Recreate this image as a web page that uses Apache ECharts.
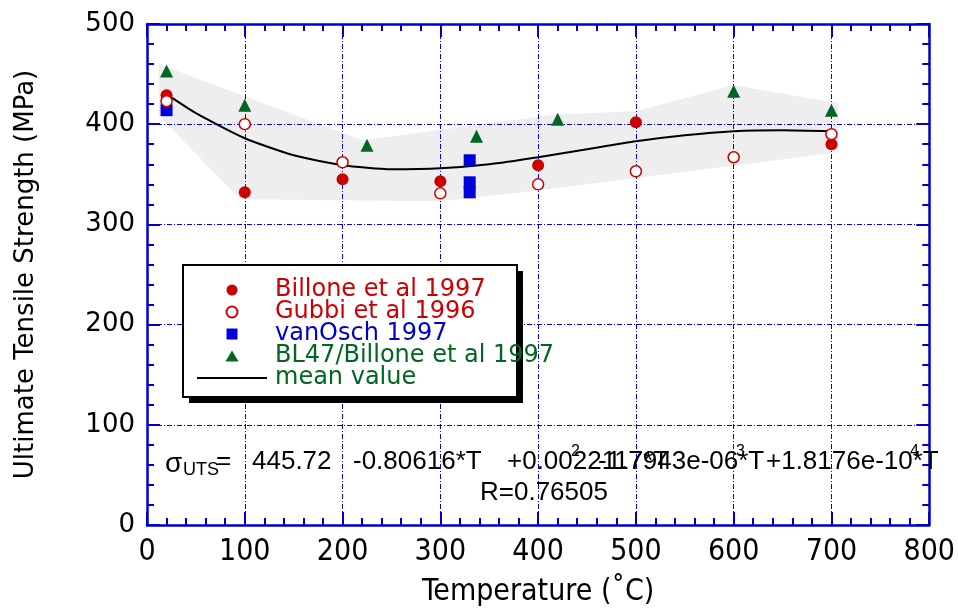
<!DOCTYPE html>
<html>
<head>
<meta charset="utf-8">
<script src="https://cdn.jsdelivr.net/npm/echarts@6/dist/echarts.min.js"></script>
<style>
  html, body { margin: 0; padding: 0; background: #fff; }
  #main { width: 958px; height: 613px; }
</style>
</head>
<body>
<div id="main"></div>
<script>
// data
var billoneT = [20, 100, 200, 300, 400, 500, 700];
var billoneUTS = [429, 332, 345, 343, 359, 402, 380];

var gubbiT = [20, 100, 200, 300, 400, 500, 600, 700];
var gubbiUTS = [423, 400, 362, 331, 340, 353, 367, 390];

var vanOschT = [20, 330, 330, 330];
var vanOschUTS = [414, 364, 342, 332];

var bl47T = [20, 100, 225, 337, 420, 600, 700];
var bl47UTS = [453, 419, 379, 388, 405, 433, 414];

var meanT = [20, 50, 100, 150, 200, 250, 300, 350, 400, 450, 500, 550, 600, 650, 700];
var meanUTS = [430, 411, 386, 369, 359, 355, 356, 360, 367, 375, 383, 389, 393, 394, 393];

// grey scatter band outline (upper edge then lower edge)
var bandT = [12, 220, 420, 500, 600, 707, 707, 402, 300, 95, 12];
var bandUTS = [460, 384, 410, 413, 439, 421, 372, 334, 323, 325, 409];

var xTicks = [0, 100, 200, 300, 400, 500, 600, 700, 800];
var yTicks = [0, 100, 200, 300, 400, 500];

function pairs(xs, ys) {
    return xs.map(function(x, i) { return [x, ys[i]]; });
}

var blue = '#0000cc';
var red = '#cc0000';
var green = '#006622';

// legend icons: the tiny corner specks keep the icon box 70x11 so the mark isn't stretched
var iconBox = 'M0,0L0.01,0L0,0.01Z M70,11L69.99,11L70,10.99Z ';
var squareIcon = 'path://' + iconBox + 'M29.5,0H40.5V11H29.5Z';
var triangleIcon = 'path://' + iconBox + 'M35,0L41.5,11H28.5Z';

var myChart = echarts.init(document.getElementById('main'));

function frameAxis(extra) {
    var ax = {
        type: 'value',
        axisLine: { show: true, onZero: false, lineStyle: { color: blue, width: 2.5 } },
        axisTick: { show: true, inside: true, length: 13, lineStyle: { color: blue, width: 2 } },
        minorTick: { show: true, splitNumber: 5, length: 7, lineStyle: { color: blue, width: 2 } },
        splitLine: { show: false },
        axisLabel: { show: false }
    };
    for (var k in extra) ax[k] = extra[k];
    return ax;
}

var gridLine = { show: true, lineStyle: { color: '#0000ee', width: 1, type: [5, 2, 1, 2] } };

var eqFont = '26px "Liberation Sans"';

var option = {
    animation: false,
    backgroundColor: '#fff',
    grid: { left: 147, right: 28, top: 24, bottom: 88 },
    xAxis: [
        frameAxis({
            position: 'bottom', min: xTicks[0], max: xTicks[xTicks.length - 1], interval: 100,
            splitLine: gridLine,
            axisLabel: { show: true, margin: 12, color: '#000', fontSize: 30,
                fontFamily: '"Liberation Sans Narrow", "DejaVu Sans Condensed", sans-serif' },
            name: 'Temperature (˚C)', nameLocation: 'middle', nameGap: 52,
            nameTextStyle: { color: '#000', fontSize: 30,
                fontFamily: '"Liberation Sans Narrow", "DejaVu Sans Condensed", sans-serif' }
        }),
        frameAxis({ position: 'top', min: 0, max: 800, interval: 100 })
    ],
    yAxis: [
        frameAxis({
            position: 'left', min: yTicks[0], max: yTicks[yTicks.length - 1], interval: 100,
            splitLine: gridLine,
            axisLabel: { show: true, margin: 12, color: '#000', fontSize: 26, fontFamily: '"DejaVu Sans", sans-serif' },
            name: 'Ultimate Tensile Strength (MPa)', nameLocation: 'middle', nameGap: 108,
            nameTextStyle: { color: '#000', fontSize: 26, fontFamily: '"DejaVu Sans", sans-serif' }
        }),
        frameAxis({ position: 'right', min: 0, max: 500, interval: 100 })
    ],
    legend: {
        orient: 'vertical',
        left: 196,
        top: 278,
        padding: 0,
        itemWidth: 70,
        itemHeight: 11,
        itemGap: -2,
        z: 20,
        textStyle: { fontSize: 24, lineHeight: 22, fontFamily: '"DejaVu Sans", sans-serif', padding: [0, 0, 0, 3] },
        data: [
            { name: 'Billone et al 1997', textStyle: { color: red } },
            { name: 'Gubbi et al 1996', textStyle: { color: red } },
            { name: 'vanOsch 1997', icon: squareIcon, textStyle: { color: blue } },
            { name: 'BL47/Billone et al 1997', icon: triangleIcon, textStyle: { color: green } },
            { name: 'mean value', textStyle: { color: green }, itemStyle: { color: 'rgba(0,0,0,0)', borderWidth: 0 } }
        ]
    },
    graphic: [
        { type: 'rect', z: 10, shape: { x: 189, y: 271, width: 334, height: 132 }, style: { fill: '#000' } },
        { type: 'rect', z: 11, shape: { x: 183, y: 265, width: 334, height: 132 },
          style: { fill: '#fff', stroke: '#000', lineWidth: 2 } },
        { type: 'text', z: 30, x: 165, y: 464, style: { text: 'σ', font: '28px "Liberation Sans"', fill: '#000', textVerticalAlign: 'middle' } },
        { type: 'text', z: 30, x: 183, y: 470, style: { text: 'UTS', font: '18px "Liberation Sans"', fill: '#000', textVerticalAlign: 'middle' } },
        { type: 'text', z: 30, x: 216, y: 462, style: { text: '=', font: eqFont, fill: '#000', textVerticalAlign: 'middle' } },
        { type: 'text', z: 30, x: 252, y: 462, style: { text: '445.72', font: eqFont, fill: '#000', textVerticalAlign: 'middle' } },
        { type: 'text', z: 30, x: 353, y: 462, style: { text: '-0.80616*T', font: eqFont, fill: '#000', textVerticalAlign: 'middle' } },
        { type: 'text', z: 30, x: 507, y: 462, style: { text: '+0.0022117*T', font: eqFont, fill: '#000', textVerticalAlign: 'middle' } },
        { type: 'text', z: 30, x: 598, y: 462, style: { text: '-1.7943e-06*T', font: eqFont, fill: '#000', textVerticalAlign: 'middle' } },
        { type: 'text', z: 30, x: 766, y: 462, style: { text: '+1.8176e-10*T', font: eqFont, fill: '#000', textVerticalAlign: 'middle' } },
        { type: 'text', z: 30, x: 571, y: 452, style: { text: '2', font: '16px "Liberation Sans"', fill: '#000', textVerticalAlign: 'middle' } },
        { type: 'text', z: 30, x: 736, y: 452, style: { text: '3', font: '16px "Liberation Sans"', fill: '#000', textVerticalAlign: 'middle' } },
        { type: 'text', z: 30, x: 910, y: 452, style: { text: '4', font: '16px "Liberation Sans"', fill: '#000', textVerticalAlign: 'middle' } },
        { type: 'text', z: 30, x: 480, y: 493, style: { text: 'R=0.76505', font: eqFont, fill: '#000', textVerticalAlign: 'middle' } }
    ],
    series: [
        {
            name: 'band',
            type: 'custom',
            z: -1,
            silent: true,
            data: pairs(bandT, bandUTS),
            renderItem: function(params, api) {
                if (params.dataIndex !== 0) return;
                var pts = bandT.map(function(t, i) { return api.coord([t, bandUTS[i]]); });
                return {
                    type: 'polygon',
                    shape: { points: pts },
                    style: { fill: '#eeeeee', stroke: 'none' }
                };
            }
        },
        {
            name: 'mean value',
            type: 'line',
            data: pairs(meanT, meanUTS),
            smooth: 0.2,
            symbol: 'none',
            lineStyle: { color: '#000', width: 2 },
            itemStyle: { color: '#000' },
            z: 3
        },
        {
            name: 'Billone et al 1997',
            type: 'scatter',
            data: pairs(billoneT, billoneUTS),
            symbol: 'circle',
            symbolSize: 12,
            itemStyle: { color: red, opacity: 1 },
            z: 5
        },
        {
            name: 'Gubbi et al 1996',
            type: 'scatter',
            data: pairs(gubbiT, gubbiUTS),
            symbol: 'circle',
            symbolSize: 11,
            itemStyle: { color: '#fff', borderColor: red, borderWidth: 1.5, opacity: 1 },
            z: 5
        },
        {
            name: 'vanOsch 1997',
            type: 'scatter',
            data: pairs(vanOschT, vanOschUTS),
            symbol: 'rect',
            symbolSize: 12,
            itemStyle: { color: '#0000dd', opacity: 1 },
            z: 4
        },
        {
            name: 'BL47/Billone et al 1997',
            type: 'scatter',
            data: pairs(bl47T, bl47UTS),
            symbol: 'triangle',
            symbolSize: 13,
            itemStyle: { color: '#006622', opacity: 1 },
            z: 5
        }
    ]
};

myChart.setOption(option);
</script>
</body>
</html>
